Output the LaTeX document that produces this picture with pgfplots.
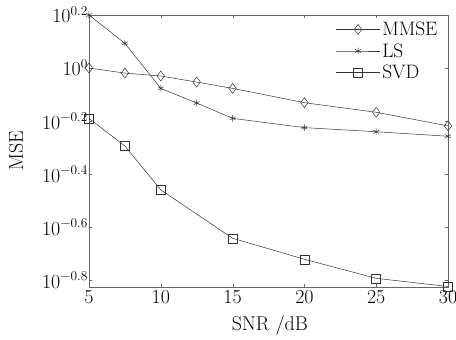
\documentclass[border=0pt]{standalone}
\usepackage{fontspec}
\usepackage{pgfplots}
\pgfplotsset{compat=1.18}
\newcommand{\sx}[1]{10\raisebox{0.85ex}{\fontsize{13.5}{14}\selectfont\addfontfeature{FakeBold=0.6} #1}}
\begin{document}
\begin{tikzpicture}
\begin{axis}[
  scale only axis,
  width=359bp, height=272bp,
  ymode=log,
  xmin=5, xmax=30,
  ymin=0.1493, ymax=1.5849,
  xtick={5,10,15,20,25,30},
  ytick={1.5849,1,0.63096,0.39811,0.25119,0.15849},
  yticklabels={\sx{0.2},\sx{0},\sx{−0.2},\sx{−0.4},\sx{−0.6},\sx{−0.8}},
  /pgf/number format/assume math mode=true,
  minor ytick={},
  tick align=inside,
  major tick length=3bp,
  axis line style={gray!80!black},
  tick style={gray!80!black},
  tick label style={font=\fontsize{20}{22}\selectfont\addfontfeature{FakeBold=0.6}},
  yticklabel style={xshift=2bp},
  label style={font=\fontsize{20}{22}\selectfont\addfontfeature{FakeBold=0.6}},
  xlabel={SNR /dB},
  ylabel={MSE},
  xlabel style={at={(axis description cs:0.504,-0.14)}, anchor=center},
  ylabel style={at={(axis description cs:-0.203,0.5)}, anchor=center},
  legend style={draw=none, fill=none, at={(0.985,0.99)}, anchor=north east,
    font=\fontsize{19.5}{21}\selectfont\addfontfeature{FakeBold=0.6}, row sep=2.5bp},
  legend cell align=left,
  legend image code/.code={\draw[mark repeat=2,mark phase=2] plot coordinates {(0bp,0bp)(22bp,0bp)(44bp,0bp)};},
  every axis plot/.append style={black!80, line width=0.5pt},
]
\addplot[mark=diamond, mark size=5bp, mark options={fill=white}] coordinates {
(5,1.0) (7.5,0.957) (10,0.933) (12.5,0.885) (15,0.838) (20,0.740) (25,0.681) (30,0.605)};
\addlegendentry{MMSE}
\addplot[mark=asterisk, mark size=3.3bp] coordinates {
(5,1.5849) (7.5,1.239) (10,0.838) (12.5,0.738) (15,0.646) (20,0.596) (25,0.575) (30,0.553)};
\addlegendentry{LS}
\addplot[mark=square, mark size=4.5bp, mark options={fill=white}] coordinates {
(5,0.646) (7.5,0.508) (10,0.347) (15,0.228) (20,0.190) (25,0.161) (30,0.150)};
\addlegendentry{SVD}
\end{axis}
\pgfresetboundingbox
\path[use as bounding box] (current axis.south west) ++(-89bp,-53bp) rectangle ++(456bp,340bp);
\end{tikzpicture}
\end{document}
